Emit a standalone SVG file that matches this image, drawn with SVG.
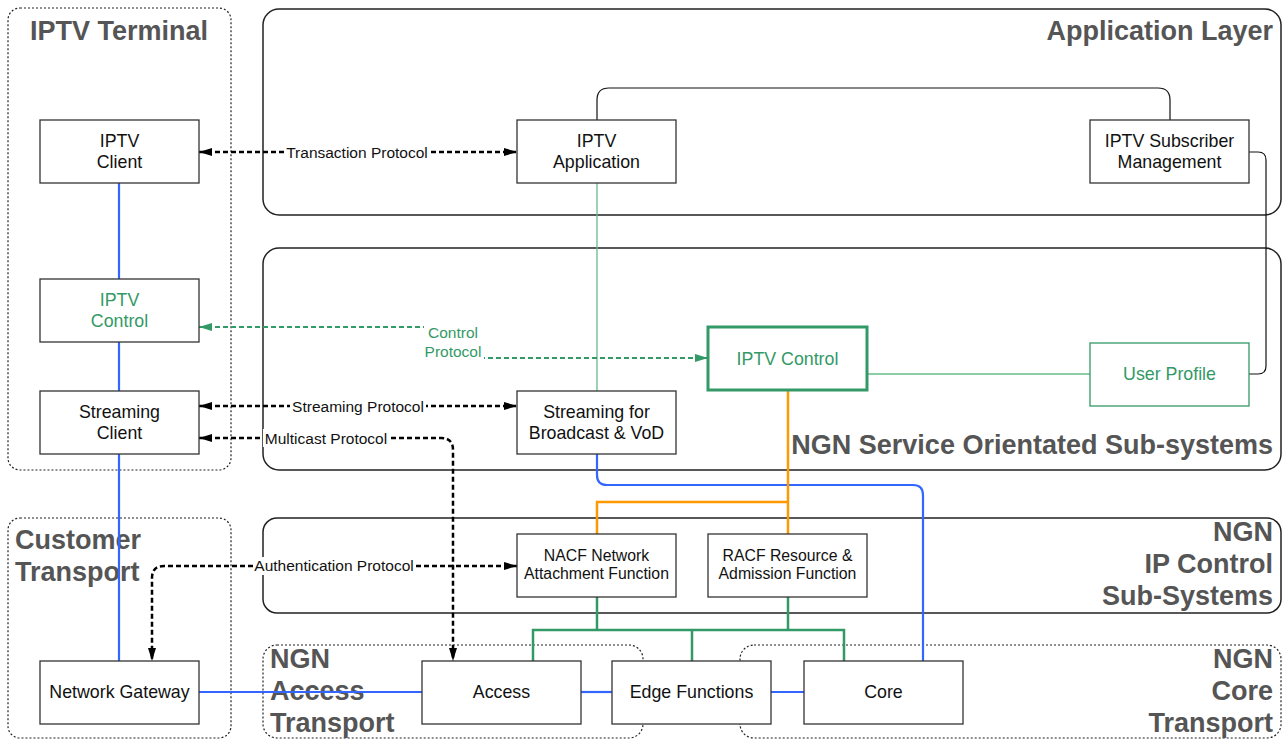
<svg xmlns="http://www.w3.org/2000/svg" width="1288" height="740" viewBox="0 0 1288 740">
<defs>
<style>
.cont{fill:none;stroke:#222;stroke-width:1.5}
.dot{fill:none;stroke:#222;stroke-width:1.2;stroke-dasharray:2 2}
.title{font-family:"Liberation Sans",Arial,sans-serif;font-weight:bold;font-size:27px;fill:#555}
.box{fill:#fff;stroke:#333;stroke-width:1.3}
.gbox{fill:#fff;stroke:#339966;stroke-width:1.3}
.gbox2{fill:#fff;stroke:#339966;stroke-width:3}
.t{font-family:"Liberation Sans",Arial,sans-serif;font-size:17.8px;fill:#111;text-anchor:middle}
.ts{font-size:15.8px}
.lbl{font-family:"Liberation Sans",Arial,sans-serif;font-size:15.5px;fill:#111;text-anchor:middle}
.g{fill:#339966}
.bg{fill:#fff}
.dash{fill:none;stroke:#000;stroke-width:2.5;stroke-dasharray:5 3}
.gdash{fill:none;stroke:#339966;stroke-width:2;stroke-dasharray:5 3}
.blue{fill:none;stroke:#3366ff;stroke-width:2.2}
.orange{fill:none;stroke:#ff9900;stroke-width:2.5}
.green{fill:none;stroke:#339966;stroke-width:2.5}
.lgreen{fill:none;stroke:#66bb88;stroke-width:1.3}
.thin{fill:none;stroke:#111;stroke-width:1.2}
</style>
<marker id="ab" viewBox="0 0 13 8" refX="13" refY="4" markerWidth="13" markerHeight="8" markerUnits="userSpaceOnUse" orient="auto-start-reverse"><path d="M0,0 L13,4 L0,8 z" fill="#000"/></marker>
<marker id="ag" viewBox="0 0 13 8" refX="13" refY="4" markerWidth="13" markerHeight="8" markerUnits="userSpaceOnUse" orient="auto-start-reverse"><path d="M0,0 L13,4 L0,8 z" fill="#339966"/></marker>
</defs>
<rect width="1288" height="740" fill="#fff"/>

<g id="containers">
<g id="iptv-terminal"><rect class="dot" x="8" y="8" width="223" height="462" rx="12"/><text class="title" x="119" y="40" text-anchor="middle">IPTV Terminal</text></g>
<g id="application-layer"><rect class="cont" x="263" y="9" width="1018" height="206" rx="16"/><text class="title" x="1273" y="40" text-anchor="end">Application Layer</text></g>
<g id="ngn-service"><rect class="cont" x="263" y="248" width="1018" height="222" rx="16"/><text class="title" x="1273" y="454" text-anchor="end">NGN Service Orientated Sub-systems</text></g>
<g id="customer-transport"><rect class="dot" x="8" y="518" width="223" height="220" rx="12"/><text class="title" x="15" y="549">Customer</text><text class="title" x="15" y="581">Transport</text></g>
<g id="ngn-ip-control"><rect class="cont" x="263" y="518" width="1018" height="95" rx="14"/><text class="title" x="1273" y="541" text-anchor="end">NGN</text><text class="title" x="1273" y="573" text-anchor="end">IP Control</text><text class="title" x="1273" y="605" text-anchor="end">Sub-Systems</text></g>
<g id="ngn-access-transport"><rect class="dot" x="263" y="645" width="380" height="93" rx="14"/><text class="title" x="270" y="668">NGN</text><text class="title" x="270" y="700">Access</text><text class="title" x="270" y="732">Transport</text></g>
<g id="ngn-core-transport"><rect class="dot" x="740" y="645" width="541" height="93" rx="14"/><text class="title" x="1273" y="668" text-anchor="end">NGN</text><text class="title" x="1273" y="700" text-anchor="end">Core</text><text class="title" x="1273" y="732" text-anchor="end">Transport</text></g>
</g>

<g id="connectors">
<path class="thin" d="M597,120 V100 Q597,88 609,88 H1158 Q1170,88 1170,100 V120"/>
<path class="thin" d="M1249,152 H1258 Q1266,152 1266,160 V366 Q1266,374 1258,374 H1249"/>
<path class="lgreen" d="M597,183 V391"/>
<path class="lgreen" d="M867,374 H1090"/>
<path class="blue" d="M119,183 V279"/>
<path class="blue" d="M119,342 V391"/>
<path class="blue" d="M119,454 V661"/>
<path class="blue" d="M199,692 H422"/>
<path class="blue" d="M581,692 H612"/>
<path class="blue" d="M771,692 H804"/>
<path class="blue" d="M597,454 V475 Q597,485 607,485 H913 Q923,485 923,495 V661"/>
<path class="orange" d="M788,390 V534"/>
<path class="orange" d="M788,502 H597 V534"/>
<path class="green" d="M597,597 V630"/>
<path class="green" d="M788,597 V630"/>
<path class="green" d="M533,661 V630 H844 V661"/>
<path class="green" d="M692,630 V661"/>
<path class="dash" d="M199,152 H517" marker-start="url(#ab)" marker-end="url(#ab)"/>
<rect class="bg" x="285" y="143" width="145" height="18"/>
<text class="lbl" x="357" y="157.5">Transaction Protocol</text>
<path class="gdash" d="M199,327 H453 V358 H708" marker-start="url(#ag)" marker-end="url(#ag)"/>
<rect class="bg" x="424" y="322" width="60" height="40"/>
<text class="lbl g" x="453" y="338">Control</text>
<text class="lbl g" x="453" y="357">Protocol</text>
<path class="dash" d="M199,406 H517" marker-start="url(#ab)" marker-end="url(#ab)"/>
<rect class="bg" x="290" y="397" width="136" height="18"/>
<text class="lbl" x="358" y="411.5">Streaming Protocol</text>
<path class="dash" d="M199,438 H441 Q453,438 453,450 V661" marker-start="url(#ab)" marker-end="url(#ab)"/>
<rect class="bg" x="263" y="429" width="126" height="18"/>
<text class="lbl" x="326" y="443.5">Multicast Protocol</text>
<path class="dash" d="M517,566 H164 Q152,566 152,578 V661" marker-start="url(#ab)" marker-end="url(#ab)"/>
<rect class="bg" x="253" y="557" width="163" height="18"/>
<text class="lbl" x="334" y="571">Authentication Protocol</text>
</g>

<g id="iptv-client"><rect class="box" x="40" y="120" width="159" height="63"/><text class="t" x="119.5" y="147">IPTV</text><text class="t" x="119.5" y="168">Client</text></g>
<g id="iptv-application"><rect class="box" x="517" y="120" width="159" height="63"/><text class="t" x="596.5" y="147">IPTV</text><text class="t" x="596.5" y="168">Application</text></g>
<g id="iptv-subscriber-management"><rect class="box" x="1090" y="120" width="159" height="63"/><text class="t" x="1169.5" y="147">IPTV Subscriber</text><text class="t" x="1169.5" y="168">Management</text></g>
<g id="iptv-control-terminal"><rect class="box" x="40" y="279" width="159" height="63"/><text class="t g" x="119.5" y="306">IPTV</text><text class="t g" x="119.5" y="327">Control</text></g>
<g id="streaming-client"><rect class="box" x="40" y="391" width="159" height="63"/><text class="t" x="119.5" y="418">Streaming</text><text class="t" x="119.5" y="439">Client</text></g>
<g id="streaming-broadcast-vod"><rect class="box" x="517" y="391" width="159" height="63"/><text class="t" x="596.5" y="418">Streaming for</text><text class="t" x="596.5" y="439">Broadcast &amp; VoD</text></g>
<g id="iptv-control"><rect class="gbox2" x="708" y="327" width="159" height="63"/><text class="t g" x="787.5" y="364.5">IPTV Control</text></g>
<g id="user-profile"><rect class="gbox" x="1090" y="343" width="159" height="63"/><text class="t g" x="1169.5" y="380">User Profile</text></g>
<g id="nacf"><rect class="box" x="517" y="534" width="159" height="63"/><text class="t ts" x="596.5" y="561">NACF Network</text><text class="t ts" x="596.5" y="579">Attachment Function</text></g>
<g id="racf"><rect class="box" x="708" y="534" width="159" height="63"/><text class="t ts" x="787.5" y="561">RACF Resource &amp;</text><text class="t ts" x="787.5" y="579">Admission Function</text></g>
<g id="network-gateway"><rect class="box" x="40" y="661" width="159" height="63"/><text class="t" x="119.5" y="698">Network Gateway</text></g>
<g id="access"><rect class="box" x="422" y="661" width="159" height="63"/><text class="t" x="501.5" y="698">Access</text></g>
<g id="edge-functions"><rect class="box" x="612" y="661" width="159" height="63"/><text class="t" x="691.5" y="698">Edge Functions</text></g>
<g id="core"><rect class="box" x="804" y="661" width="159" height="63"/><text class="t" x="883.5" y="698">Core</text></g>
</svg>
